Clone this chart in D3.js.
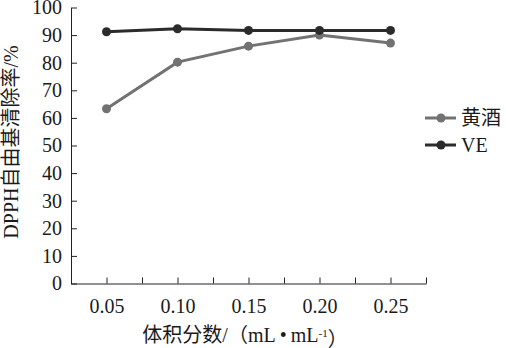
<!DOCTYPE html>
<html><head><meta charset="utf-8">
<script src="https://cdn.jsdelivr.net/npm/d3@7"></script>
<style>
html,body{margin:0;padding:0;background:#fff;}
text{font-family:"Liberation Serif","Times New Roman","Noto Sans CJK SC",serif;fill:#1a1a1a;}
</style></head>
<body>
<svg id="c" width="506" height="348"></svg>
<script>
const categories = [0.05, 0.10, 0.15, 0.20, 0.25];
const tickLabels = ["0.05", "0.10", "0.15", "0.20", "0.25"];
const huangjiu = [63.3, 80.2, 86.0, 90.0, 87.1];
const ve = [91.2, 92.3, 91.7, 91.7, 91.7];
const seriesNames = ["黄酒", "VE"];
const yTicks = [0, 10, 20, 30, 40, 50, 60, 70, 80, 90, 100];

(function () {
const svg = d3.select("#c");
const mLeft = 71, mRight = 426, mTop = 7.5, mBottom = 283.5;

const x = d3.scaleLinear().domain([0.025, 0.275]).range([mLeft, mRight]);
const y = d3.scaleLinear().domain([0, 100]).range([mBottom, mTop]);

// x axis: ticks at categories and at boundaries between them
const bounds = [0.025].concat(categories.map(c => c + 0.025));
const xTickVals = categories.concat(bounds);
const xAxis = d3.axisBottom(x).tickValues(xTickVals).tickSize(-6).tickSizeOuter(0).tickPadding(15)
  .tickFormat(v => { const i = categories.findIndex(c => Math.abs(c - v) < 1e-9); return i >= 0 ? tickLabels[i] : ""; });
const gx = svg.append("g").attr("transform", `translate(0,${mBottom})`).call(xAxis);
gx.selectAll("text").style("font-size", "20px").attr("fill", "#1a1a1a");
gx.selectAll("line,path").attr("stroke", "#222");

const yAxis = d3.axisLeft(y).tickValues(yTicks).tickSize(-6).tickSizeOuter(0).tickPadding(9).tickFormat(d3.format("d"));
const gy = svg.append("g").attr("transform", `translate(${mLeft},0)`).call(yAxis);
gy.selectAll("text").style("font-size", "20px").attr("fill", "#1a1a1a");
gy.selectAll("line,path").attr("stroke", "#222");

const series = [
  {name: seriesNames[0], values: huangjiu, color: "#727272"},
  {name: seriesNames[1], values: ve, color: "#2b2b2b"}
];
const line = d3.line().x((d, i) => x(categories[i])).y(d => y(d));
series.forEach(s => {
  svg.append("path").datum(s.values).attr("d", line).attr("fill", "none")
    .attr("stroke", s.color).attr("stroke-width", 3);
  svg.selectAll(null).data(s.values).enter().append("circle")
    .attr("cx", (d, i) => x(categories[i])).attr("cy", d => y(d)).attr("r", 4.5).attr("fill", s.color);
});

// legend
const legY = [118, 145];
series.forEach((s, i) => {
  const g = svg.append("g").attr("transform", `translate(0,${legY[i]})`);
  g.append("line").attr("x1", 425).attr("x2", 456).attr("stroke", s.color).attr("stroke-width", 3);
  g.append("circle").attr("cx", 441).attr("r", 4.5).attr("fill", s.color);
  g.append("text").attr("x", 461).attr("dy", "0.35em").style("font-size", "20px").text(s.name);
});

// axis titles
const xt = svg.append("text").attr("x", 245).attr("y", 342).attr("text-anchor", "middle").style("font-size", "20px");
xt.append("tspan").text("体积分数/（mL\u2009•\u2009mL");
xt.append("tspan").attr("dy", "-0.45em").style("font-size", "11px").text("-1");
xt.append("tspan").attr("dy", "0.45em").text("）");

svg.append("text").attr("transform", "translate(18,142) rotate(-90)").attr("text-anchor", "middle")
  .style("font-size", "20px").text("DPPH自由基清除率/%");
})();
</script>
</body></html>
